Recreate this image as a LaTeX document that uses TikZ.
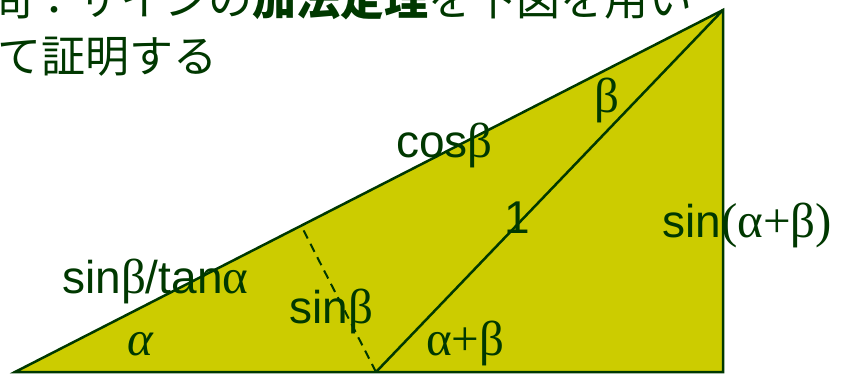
\documentclass[tikz,border=0pt]{standalone}
\usepackage{fontspec}
\setmainfont{Liberation Sans}
\newfontfamily\grkfont{Liberation Serif}
\newfontfamily\jpfont{Noto Sans CJK JP}
\usetikzlibrary{calc}

\definecolor{trifill}{RGB}{204,204,0}
\definecolor{inkgreen}{RGB}{0,56,0}
\newcommand{\grk}[1]{{\grkfont\fontsize{49}{49}\selectfont #1}}

\begin{document}
\begin{tikzpicture}[
    x=1pt, y=-1pt,
    every node/.style={text=inkgreen, inner sep=0pt, anchor=base west},
    lbltext/.style={font=\fontsize{46}{46}\selectfont},
    jptext/.style={font=\jpfont\fontsize{44}{44}\selectfont},
    edge/.style={draw=inkgreen, line width=2.5pt, line join=miter},
    perp/.style={edge, line width=2pt, dash pattern=on 9pt off 6pt}
]
    \clip (0,0) rectangle (841,373);

    % vertices
    \coordinate (A) at (15,372);
    \coordinate (B) at (376,372);
    \coordinate (C) at (723,372);
    \coordinate (D) at (723,10);
    \coordinate (F) at ($(A)!(B)!(D)$);

    \filldraw[edge, fill=trifill] (A) -- (C) -- (D) -- cycle;
    \draw[edge] (B) -- (D);
    \draw[perp] (B) -- (F);

    % question
    \node[jptext] (qone) at (-12,15) {問：サインの\textbf{加法定理}を下図を用い};
    \node[jptext] (qtwo) at (-3,72) {て証明する};

    % labels
    \node[lbltext] (sinbtan) at (62,293) {sin\grk{β}/tan\grk{α}};
    \node[lbltext] (sinb) at (289,323) {sin\grk{β}};
    \node[lbltext] (cosb) at (396,157) {cos\grk{β}};
    \node[lbltext] (beta) at (594,112) {\grk{β}};
    \node[lbltext] (one) at (504,233) {1};
    \node[lbltext] (sinab) at (662,237) {sin\grk{(α+β)}};
    \node[lbltext] (alpha) at (127,355) {\grk{\itshape α}};
    \node[lbltext] (apb) at (426,355) {\grk{α+β}};
\end{tikzpicture}
\end{document}
